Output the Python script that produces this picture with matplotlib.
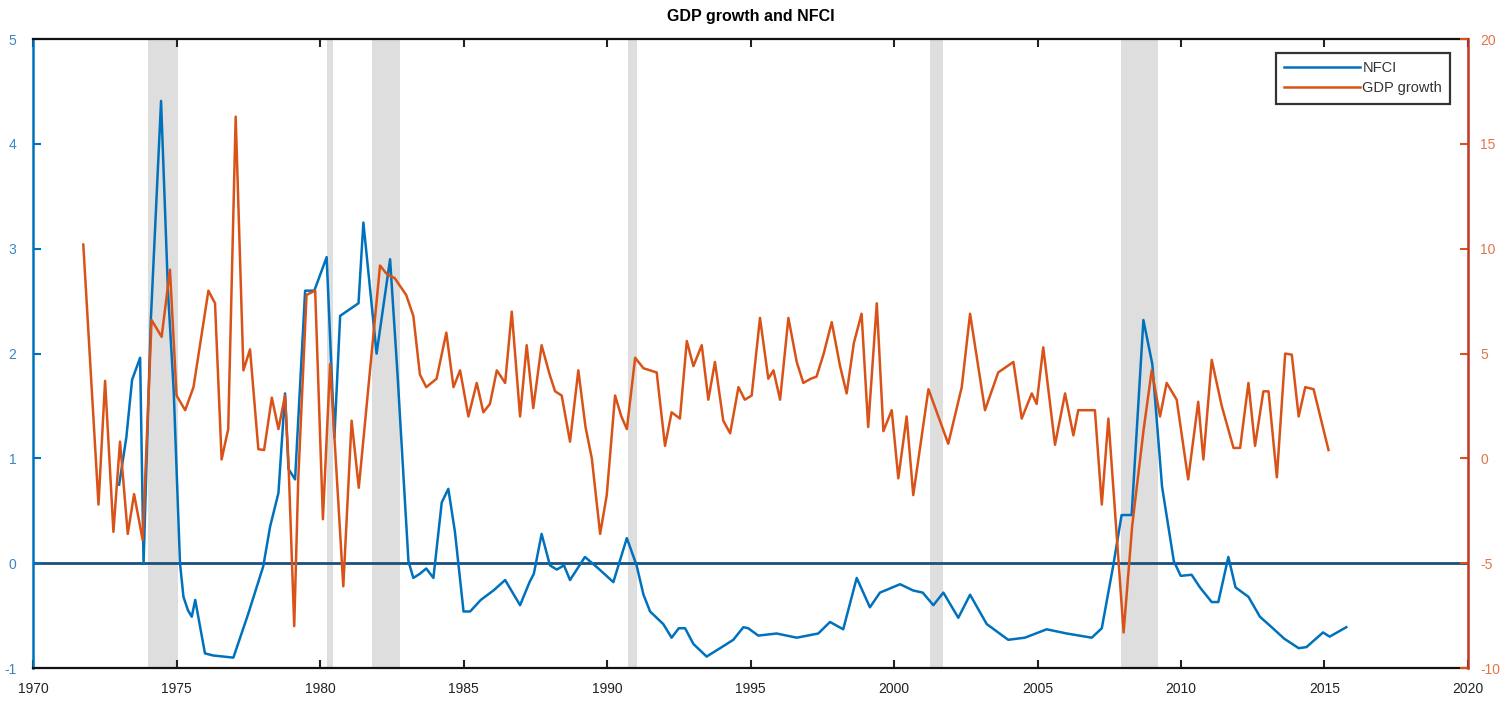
import matplotlib
matplotlib.use("Agg")
import matplotlib.pyplot as plt

# ---------------- data ----------------
gdp_year = [1971.75, 1972.28, 1972.51, 1972.8, 1973.03, 1973.3, 1973.52, 1973.82,
            1974.13, 1974.48, 1974.77, 1975.0, 1975.3, 1975.59, 1976.11, 1976.34,
            1976.57, 1976.8, 1977.06, 1977.33, 1977.56, 1977.85, 1978.05, 1978.32,
            1978.55, 1978.78, 1978.9, 1979.1, 1979.24, 1979.53, 1979.83, 1980.1,
            1980.35, 1980.81, 1981.1, 1981.35, 1982.09, 1982.32, 1982.6, 1983.0,
            1983.25, 1983.48, 1983.7, 1984.06, 1984.4, 1984.65, 1984.88, 1985.17,
            1985.46, 1985.69, 1985.92, 1986.16, 1986.45, 1986.68, 1986.97, 1987.2,
            1987.43, 1987.72, 1988.0, 1988.19, 1988.42, 1988.71, 1989.0, 1989.25,
            1989.47, 1989.76, 1989.99, 1990.28, 1990.5, 1990.69, 1990.98, 1991.27,
            1991.73, 1992.02, 1992.25, 1992.54, 1992.78, 1993.01, 1993.3, 1993.53,
            1993.76, 1994.05, 1994.29, 1994.58, 1994.8, 1995.04, 1995.33, 1995.62,
            1995.8, 1996.03, 1996.32, 1996.61, 1996.84, 1997.1, 1997.3, 1997.55,
            1997.83, 1998.12, 1998.35, 1998.6, 1998.87, 1999.1, 1999.4, 1999.63,
            1999.92, 2000.15, 2000.44, 2000.67, 2001.2, 2001.89, 2002.36, 2002.65,
            2003.17, 2003.63, 2004.16, 2004.45, 2004.8, 2004.97, 2005.2, 2005.61,
            2005.96, 2006.25, 2006.42, 2007.0, 2007.24, 2007.47, 2008.0, 2008.3,
            2008.7, 2008.98, 2009.27, 2009.5, 2009.85, 2010.25, 2010.6, 2010.78,
            2011.07, 2011.42, 2011.83, 2012.06, 2012.35, 2012.58, 2012.87, 2013.05,
            2013.34, 2013.63, 2013.86, 2014.1, 2014.33, 2014.62, 2015.14]
gdp_growth = [10.2, -2.2, 3.7, -3.5, 0.8, -3.6, -1.7, -3.9,
              6.6, 5.8, 9.0, 3.0, 2.3, 3.4, 8.0, 7.4,
              -0.05, 1.4, 16.3, 4.2, 5.2, 0.44, 0.4, 2.9,
              1.4, 3.0, -0.2, -8.0, -1.0, 7.8, 8.0, -2.9,
              4.5, -6.1, 1.8, -1.4, 9.2, 8.8, 8.6, 7.8,
              6.8, 4.0, 3.4, 3.8, 6.0, 3.4, 4.2, 2.0,
              3.6, 2.2, 2.6, 4.2, 3.6, 7.0, 2.0, 5.4,
              2.4, 5.4, 4.0, 3.2, 3.0, 0.8, 4.2, 1.5,
              0.0, -3.6, -1.75, 3.0, 2.0, 1.4, 4.8, 4.3,
              4.1, 0.6, 2.2, 1.9, 5.6, 4.4, 5.4, 2.8,
              4.6, 1.8, 1.2, 3.4, 2.8, 3.0, 6.7, 3.8,
              4.2, 2.8, 6.7, 4.6, 3.6, 3.8, 3.9, 5.0,
              6.5, 4.4, 3.1, 5.5, 6.9, 1.5, 7.4, 1.3,
              2.3, -0.95, 2.0, -1.75, 3.3, 0.7, 3.4, 6.9,
              2.3, 4.1, 4.6, 1.9, 3.1, 2.6, 5.3, 0.65,
              3.1, 1.1, 2.3, 2.3, -2.2, 1.9, -8.3, -3.2,
              1.4, 4.2, 2.0, 3.6, 2.8, -1.0, 2.7, -0.05,
              4.7, 2.5, 0.5, 0.5, 3.6, 0.6, 3.2, 3.2,
              -0.9, 5.0, 4.95, 2.0, 3.4, 3.3, 0.4]

nfci_year = [1973.0, 1973.25, 1973.45, 1973.73, 1973.85, 1974.1, 1974.46, 1974.7,
             1974.9, 1975.12, 1975.24, 1975.4, 1975.53, 1975.65, 1975.99, 1976.28,
             1976.98, 1977.5, 1978.02, 1978.26, 1978.55, 1978.78, 1978.9, 1979.13,
             1979.48, 1979.8, 1980.23, 1980.5, 1980.7, 1981.34, 1981.51, 1981.97,
             1982.44, 1982.7, 1983.08, 1983.25, 1983.48, 1983.7, 1983.95, 1984.24,
             1984.47, 1984.7, 1985.0, 1985.23, 1985.6, 1986.04, 1986.45, 1986.97,
             1987.3, 1987.45, 1987.72, 1988.01, 1988.25, 1988.5, 1988.71, 1989.23,
             1989.7, 1990.22, 1990.69, 1991.03, 1991.27, 1991.5, 1991.96, 1992.25,
             1992.5, 1992.72, 1993.01, 1993.47, 1993.94, 1994.4, 1994.75, 1994.92,
             1995.27, 1995.91, 1996.61, 1997.36, 1997.77, 1998.23, 1998.7, 1999.16,
             1999.51, 2000.21, 2000.67, 2001.0, 2001.37, 2001.72, 2002.24, 2002.65,
             2003.23, 2003.98, 2004.56, 2005.32, 2006.02, 2006.89, 2007.24, 2007.64,
             2007.93, 2008.28, 2008.69, 2009.0, 2009.34, 2009.75, 2009.99, 2010.37,
             2010.66, 2011.07, 2011.3, 2011.65, 2011.9, 2012.35, 2012.75, 2013.16,
             2013.6, 2014.1, 2014.37, 2014.66, 2014.95, 2015.18, 2015.76]
nfci = [0.75, 1.2, 1.75, 1.96, 0.0, 2.3, 4.41, 2.6,
        1.65, 0.0, -0.32, -0.45, -0.51, -0.35, -0.86, -0.88,
        -0.9, -0.48, -0.03, 0.35, 0.67, 1.62, 0.9, 0.8,
        2.6, 2.6, 2.92, 1.2, 2.36, 2.48, 3.25, 2.0,
        2.9, 1.8, 0.02, -0.14, -0.1, -0.05, -0.14, 0.58,
        0.71, 0.3, -0.46, -0.46, -0.35, -0.26, -0.16, -0.4,
        -0.18, -0.1, 0.28, -0.02, -0.06, -0.02, -0.16, 0.06,
        -0.05, -0.18, 0.24, -0.02, -0.3, -0.46, -0.58, -0.71,
        -0.62, -0.62, -0.77, -0.89, -0.81, -0.73, -0.61, -0.62,
        -0.69, -0.67, -0.71, -0.67, -0.56, -0.63, -0.14, -0.42,
        -0.28, -0.2, -0.26, -0.28, -0.4, -0.28, -0.52, -0.3,
        -0.58, -0.73, -0.71, -0.63, -0.67, -0.71, -0.62, -0.02,
        0.46, 0.46, 2.32, 1.9, 0.73, 0.02, -0.12, -0.11,
        -0.23, -0.37, -0.37, 0.06, -0.23, -0.32, -0.51, -0.61,
        -0.72, -0.81, -0.8, -0.73, -0.66, -0.7, -0.61]

recession_start = [1974.0, 1980.23, 1981.8, 1990.74, 2001.25, 2007.9]
recession_end = [1975.05, 1980.46, 1982.79, 1991.03, 2001.72, 2009.2]

x_ticks = [1970, 1975, 1980, 1985, 1990, 1995, 2000, 2005, 2010, 2015, 2020]
left_ticks = [-1, 0, 1, 2, 3, 4, 5]
right_ticks = [-10, -5, 0, 5, 10, 15, 20]

# ---------------- plot ----------------
BLUE = "#0072BD"
RED = "#D95319"
plt.rcParams['font.family'] = ['Liberation Sans', 'DejaVu Sans']
plt.rcParams['axes.unicode_minus'] = False

fig = plt.figure(figsize=(15.03, 7.04), dpi=100)
ax = fig.add_axes([0.022, 0.051, 0.9547, 0.8935])
ax2 = ax.twinx()

for s, e in zip(recession_start, recession_end):
    ax.axvspan(s, e, color="#dedede", lw=0, zorder=0)

ax.axhline(0, color="#1c4f7a", lw=2.0, zorder=1)
l1, = ax.plot(nfci_year, nfci, color=BLUE, lw=1.8, zorder=3, label="NFCI")
l2, = ax2.plot(gdp_year, gdp_growth, color=RED, lw=1.8, zorder=3, label="GDP growth")

ax.set_xlim(1970, 2020)
ax.set_ylim(-1, 5)
ax2.set_ylim(-10, 20)
ax.set_xticks(x_ticks)
ax.set_yticks(left_ticks)
ax2.set_yticks(right_ticks)

ax.tick_params(axis='x', direction='in', length=6, width=1.5, top=True,
               labelsize=10, colors="#222222", pad=10)
ax.tick_params(axis='y', direction='in', length=6, width=1.5,
               labelsize=10, colors=BLUE, labelcolor="#3a86c8", pad=12)
ax2.tick_params(axis='y', direction='in', length=6, width=1.5,
                labelsize=10, colors=RED, labelcolor="#e0764a", pad=9)

for sp in ['top', 'bottom']:
    ax.spines[sp].set_color("#111111")
    ax.spines[sp].set_linewidth(1.6)
ax.spines['left'].set_color(BLUE)
ax.spines['left'].set_linewidth(1.8)
ax2.spines['right'].set_color("#c0392b")
ax2.spines['right'].set_linewidth(1.8)
ax2.spines['left'].set_visible(False)
ax2.spines['top'].set_visible(False)
ax2.spines['bottom'].set_visible(False)

ax.set_title("GDP growth and NFCI", fontsize=11.5, fontweight='bold', pad=13)

leg = ax2.legend(handles=[l1, l2], loc='upper right', bbox_to_anchor=(0.9875, 0.978),
                 fontsize=10.5, frameon=True, fancybox=False, edgecolor="black",
                 borderpad=0.55, handlelength=5.2, handletextpad=0.15,
                 labelspacing=0.45, borderaxespad=0)
leg.get_frame().set_linewidth(1.6)
for t in leg.get_texts():
    t.set_color("#333333")

fig.savefig("out.png", dpi=100)
